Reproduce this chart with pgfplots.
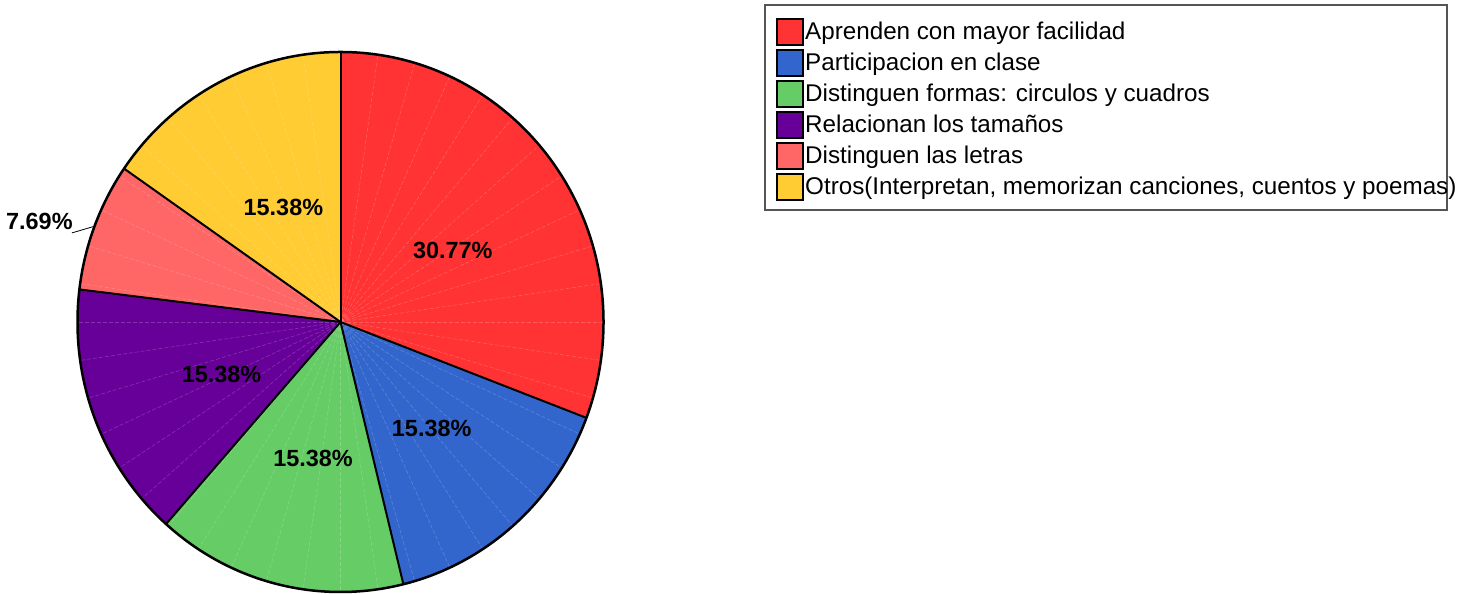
\documentclass[border=0pt]{standalone}
\usepackage{pgfplots}
\usepackage{pgfplotstable}
\pgfplotsset{compat=1.18}
\usepackage{fontspec}
\setmainfont{Liberation Sans}

\definecolor{sRed}{HTML}{FF3333}
\definecolor{sBlue}{HTML}{3366CC}
\definecolor{sGreen}{HTML}{66CC66}
\definecolor{sPurple}{HTML}{660099}
\definecolor{sPink}{HTML}{FF6666}
\definecolor{sYellow}{HTML}{FFCC33}
\definecolor{legframe}{HTML}{555555}

\pgfplotstableread[col sep=semicolon]{
pct;col;name
30.77;sRed;Aprenden con mayor facilidad
15.38;sBlue;Participacion en clase
15.38;sGreen;Distinguen formas: circulos y cuadros
15.38;sPurple;Relacionan los tamaños
7.69;sPink;Distinguen las letras
15.38;sYellow;Otros(Interpretan, memorizan canciones, cuentos y poemas)
}\piedata

\tikzset{pctlabel/.style={font=\fontsize{23.5}{27}\selectfont\bfseries, inner sep=0pt}}

\begin{document}%
\begin{tikzpicture}[x=1bp,y=1bp]
\pgfplotstablegetrowsof{\piedata}
\pgfmathtruncatemacro\nrows{\pgfplotsretval-1}
\def\total{0}
\pgfplotsforeachungrouped \i in {0,...,\nrows}{%
  \pgfplotstablegetelem{\i}{pct}\of\piedata
  \pgfmathsetmacro\total{\total+\pgfplotsretval}%
}
\pgfmathsetmacro\degper{360/\total}
\begin{axis}[
  at={(340.5bp,272bp)}, anchor=center,
  scale only axis, width=526bp, height=540bp,
  xmin=-1, xmax=1, ymin=-1, ymax=1,
  hide axis, clip=false]
% slices
\def\cum{0}
\pgfplotsforeachungrouped \i in {0,...,\nrows}{%
  \pgfplotstablegetelem{\i}{pct}\of\piedata \let\sliceval\pgfplotsretval
  \pgfplotstablegetelem{\i}{col}\of\piedata \let\slicecol\pgfplotsretval
  \pgfmathsetmacro\aS{90-\degper*\cum}%
  \pgfmathsetmacro\cum{\cum+\sliceval}%
  \pgfmathsetmacro\aE{90-\degper*\cum}%
  \edef\temp{\noexpand\fill[fill=\slicecol] (axis cs:0,0) -- (axis cs:{cos(\aS)},{sin(\aS)}) arc[start angle=\aS, end angle=\aE, x radius=263bp, y radius=270bp] -- cycle;}%
  \temp
}
% faint facet lines
\pgfplotsforeachungrouped \k in {0,...,43}{%
  \pgfmathsetmacro\ak{90-\k*360/44}%
  \edef\temp{\noexpand\draw[white, opacity=0.2, line width=0.6bp, dash pattern=on 4bp off 2bp] (axis cs:0,0) -- (axis cs:{cos(\ak)},{sin(\ak)});}%
  \temp
}
% boundaries and labels
\def\cum{0}
\pgfplotsforeachungrouped \i in {0,...,\nrows}{%
  \pgfplotstablegetelem{\i}{pct}\of\piedata \let\sliceval\pgfplotsretval
  \pgfmathsetmacro\aS{90-\degper*\cum}%
  \pgfmathsetmacro\cum{\cum+\sliceval}%
  \pgfmathsetmacro\aE{90-\degper*\cum}%
  \pgfmathsetmacro\aM{(\aS+\aE)/2}%
  \edef\temp{\noexpand\draw[black, line width=2bp] (axis cs:0,0) -- (axis cs:{cos(\aS)},{sin(\aS)});}%
  \temp
  \pgfmathparse{\sliceval<10 ? 1 : 0}%
  \ifnum\pgfmathresult=1
    \edef\temp{\noexpand\draw[black, line width=0.8bp] (axis cs:{cos(\aM)},{sin(\aM)}) -- (axis cs:-1.021,0.33) node[pctlabel, anchor=south east, xshift=1bp, yshift=3bp] {\sliceval\noexpand\%};}%
  \else
    \edef\temp{\noexpand\node[pctlabel, xshift=4bp, yshift=-5bp] at (axis cs:{0.5*cos(\aM)},{0.5*sin(\aM)}) {\sliceval\noexpand\%};}%
  \fi
  \temp
}
\draw[black, line width=2.5bp] (axis cs:0,0) ellipse [x radius=263bp, y radius=270bp];
\end{axis}
% legend
\draw[legframe, line width=2bp] (764.5,589) rectangle (1446.5,383.5);
\foreach \i in {0,...,5}{%
  \pgfplotstablegetelem{\i}{col}\of\piedata \let\slicecol\pgfplotsretval
  \pgfplotstablegetelem{\i}{name}\of\piedata \let\slicename\pgfplotsretval
  \pgfmathsetmacro\yc{562-31*\i}
  \fill[fill=\slicecol, draw=black, line width=1.8bp] (777,\yc-13) rectangle (803,\yc+13);
  \node[anchor=base west, inner sep=0pt, font=\fontsize{24.3}{29}\selectfont] at (805,\yc-8) {\slicename};
}
\pgfresetboundingbox
\path[use as bounding box] (0,0) rectangle (1471,594);
\end{tikzpicture}%
\end{document}
